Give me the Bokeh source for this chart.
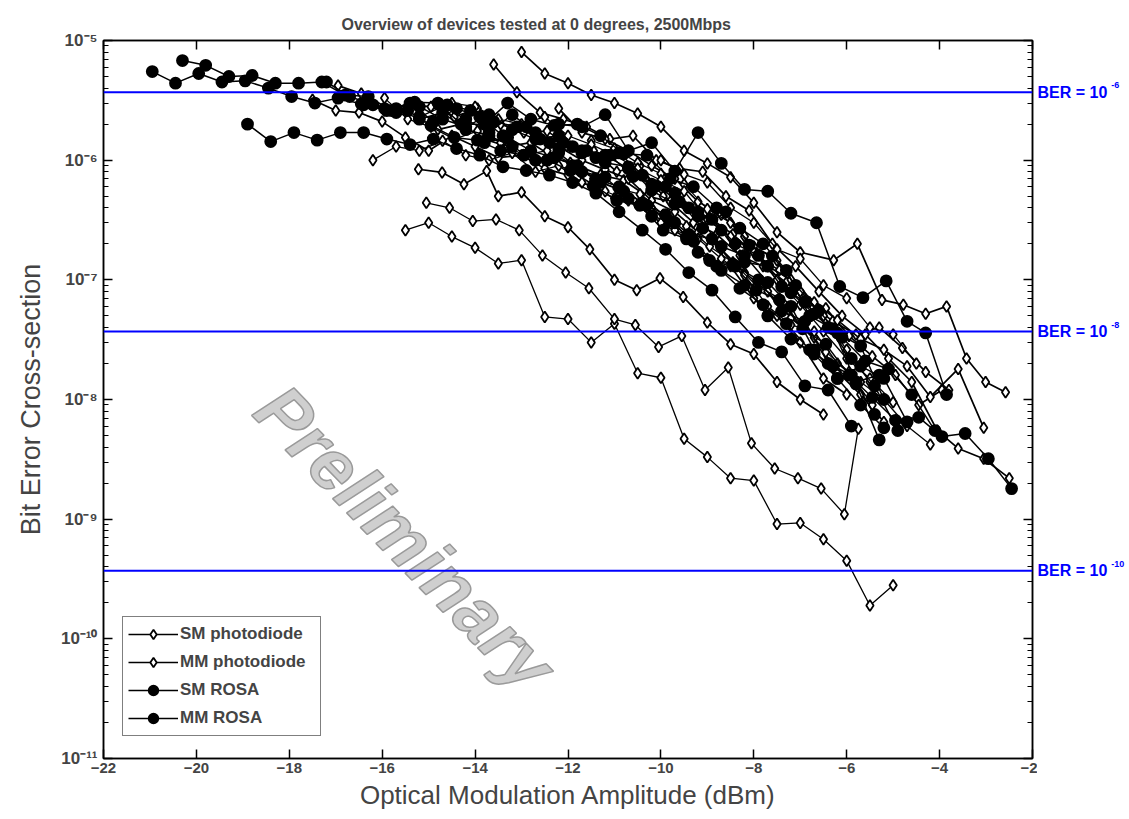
from bokeh.plotting import figure
from bokeh.layouts import row
from bokeh.models import (FixedTicker, LinearAxis, LogAxis, Range1d, Span, Label,
                          Legend, LegendItem, CustomJSTickFormatter)
from bokeh.core.properties import value
from bokeh.embed import file_html
from bokeh.resources import INLINE

# ---------------- data (OMA in dBm, bit error cross-section) ----------------
# SM ROSA (filled circles)
srosa_a_x = [-20.95, -20.45, -19.95, -19.45, -18.95, -18.45, -17.95, -17.45, -16.95, -16.45,
             -15.95, -15.45, -14.95, -14.45, -13.95, -13.45, -12.95, -12.45, -11.95, -11.45,
             -10.95, -10.45, -9.95, -9.45, -8.95, -8.45, -7.95, -7.45, -6.95, -6.45,
             -5.95, -5.45, -4.95, -4.45, -3.95, -3.45, -2.95, -2.45]
srosa_a_y = [5.5e-6, 4.4e-6, 5.3e-6, 4.5e-6, 4.6e-6, 4.0e-6, 3.4e-6, 3.0e-6, 3.3e-6, 2.95e-6,
             2.7e-6, 2.6e-6, 1.95e-6, 1.55e-6, 1.47e-6, 1.2e-6, 1.1e-6, 1.0e-6, 8.2e-7, 6.2e-7,
             4.6e-7, 4.2e-7, 2.6e-7, 2.2e-7, 1.45e-7, 1.35e-7, 8.2e-8, 6.8e-8, 3.9e-8, 2.9e-8,
             1.6e-8, 1.04e-8, 6.7e-9, 7.1e-9, 4.9e-9, 5.2e-9, 3.2e-9, 1.8e-9]
srosa_b_x = [-20.3, -19.8, -19.3, -18.8, -18.3, -17.8, -17.3, -16.8, -16.3, -15.8,
             -15.3, -14.8, -14.3, -13.8, -13.3, -12.8, -12.3, -11.8, -11.3, -10.8,
             -10.3, -9.8, -9.3, -8.8, -8.3, -7.8, -7.3, -6.8, -6.3, -5.8, -5.3]
srosa_b_y = [6.8e-6, 6.2e-6, 5.0e-6, 5.1e-6, 4.4e-6, 4.4e-6, 4.5e-6, 3.5e-6, 3.4e-6, 2.6e-6,
             3.05e-6, 3.0e-6, 2.0e-6, 2.0e-6, 3.0e-6, 2.2e-6, 1.95e-6, 2.0e-6, 1.6e-6, 1.13e-6,
             1.1e-6, 7.0e-7, 6.0e-7, 4.0e-7, 2.7e-7, 2.0e-7, 1.2e-7, 5.0e-8, 3.9e-8, 1.4e-8, 1.6e-8]
srosa_c_x = [-16.4, -15.9, -15.4, -14.9, -14.4, -13.9, -13.4, -12.9, -12.4, -11.9, -11.4, -10.9,
             -10.4, -9.9, -9.4, -8.9, -8.4, -7.9, -7.4, -6.9, -6.4, -5.9, -5.4, -4.9]
srosa_c_y = [2.9e-6, 2.6e-6, 3.0e-6, 2.1e-6, 2.7e-6, 2.3e-6, 1.6e-6, 1.9e-6, 1.4e-6, 1.3e-6, 1.05e-6, 1.15e-6,
             7.5e-7, 6.0e-7, 4.0e-7, 3.2e-7, 2.0e-7, 1.6e-7, 8.8e-8, 6.5e-8, 4.0e-8, 2.2e-8, 1.3e-8, 5.5e-9]
srosa_d_x = [-14.6, -14.1, -13.6, -13.1, -12.6, -12.1, -11.6, -11.1, -10.6, -10.1, -9.6,
             -9.1, -8.6, -8.1, -7.6, -7.1, -6.6, -6.1, -5.6, -5.1, -4.6, -4.1]
srosa_d_y = [2.9e-6, 2.6e-6, 2.1e-6, 1.9e-6, 1.5e-6, 1.4e-6, 1.2e-6, 1.1e-6, 7.3e-7, 6.1e-7, 4.5e-7,
             2.7e-7, 3.7e-7, 1.95e-7, 1.58e-7, 9.0e-8, 5.5e-8, 3.3e-8, 2.1e-8, 1.8e-8, 1.1e-8, 5.5e-9]
srosa_e_x = [-12.2, -11.7, -11.2, -10.7, -10.2, -9.7, -9.2, -8.7, -8.2, -7.7, -7.2, -6.65,
             -6.15, -5.65, -5.15, -4.7, -4.3, -3.85]
srosa_e_y = [2.0e-6, 1.9e-6, 2.4e-6, 1.2e-6, 1.4e-6, 8.1e-7, 1.7e-6, 9.4e-7, 5.7e-7, 5.5e-7, 3.6e-7, 3.0e-7,
             8.8e-8, 7.1e-8, 9.8e-8, 4.5e-8, 3.6e-8, 1.1e-8]
srosa_f_x = [-17.2, -16.7, -16.2, -15.7, -15.2, -14.7, -14.2, -13.7, -13.2, -12.7, -12.2, -11.7,
             -11.2, -10.7, -10.2, -9.7, -9.2, -8.7, -8.2, -7.7, -7.2, -6.7, -6.2, -5.7, -5.2]
srosa_f_y = [4.5e-6, 3.4e-6, 2.9e-6, 2.5e-6, 2.8e-6, 2.2e-6, 1.9e-6, 2.4e-6, 1.8e-6, 1.5e-6, 1.6e-6, 1.2e-6,
             9.5e-7, 8.8e-7, 5.6e-7, 4.3e-7, 3.4e-7, 1.9e-7, 1.6e-7, 9.5e-8, 6.0e-8, 2.6e-8, 1.5e-8, 9.0e-9, 5.8e-9]

# MM ROSA (filled circles)
mrosa_a_x = [-18.9, -18.4, -17.9, -17.4, -16.9, -16.4, -15.9, -15.4, -14.9, -14.4, -13.9, -13.4, -12.9,
             -12.4, -11.9, -11.4, -10.9, -10.4, -9.9, -9.4, -8.9, -8.4, -7.9, -7.4, -6.9, -6.4, -5.9]
mrosa_a_y = [2.0e-6, 1.43e-6, 1.7e-6, 1.47e-6, 1.7e-6, 1.7e-6, 1.5e-6, 1.35e-6, 1.5e-6, 1.25e-6, 1.1e-6, 8.8e-7, 8.2e-7,
             7.5e-7, 6.5e-7, 5.3e-7, 3.7e-7, 2.6e-7, 1.8e-7, 1.15e-7, 8.2e-8, 4.9e-8, 3.0e-8, 2.5e-8, 1.3e-8, 1.2e-8, 6.0e-9]
mrosa_b_x = [-15.2, -14.7, -14.2, -13.7, -13.2, -12.7, -12.2, -11.7, -11.2, -10.7, -10.2,
             -9.7, -9.2, -8.7, -8.2, -7.7, -7.2, -6.7, -6.2, -5.7, -5.2]
mrosa_b_y = [2.3e-6, 2.8e-6, 2.2e-6, 1.7e-6, 2.4e-6, 1.7e-6, 1.25e-6, 1.15e-6, 1.1e-6, 8.5e-7, 6.3e-7,
             5.3e-7, 3.7e-7, 2.6e-7, 1.4e-7, 1.3e-7, 7.8e-8, 5.2e-8, 3.6e-8, 2.8e-8, 1.0e-8]
mrosa_c_x = [-13.8, -13.3, -12.8, -12.3, -11.8, -11.3, -10.8, -10.3, -9.8, -9.3, -8.8, -8.3,
             -7.8, -7.3, -6.8, -6.3, -5.8, -5.3]
mrosa_c_y = [1.4e-6, 1.55e-6, 1.2e-6, 1.05e-6, 9.0e-7, 6.5e-7, 5.5e-7, 4.2e-7, 3.1e-7, 2.1e-7, 1.3e-7, 8.5e-8,
             6.2e-8, 4.3e-8, 2.6e-8, 1.9e-8, 1.35e-8, 4.6e-9]
mrosa_d_x = [-11.9, -11.4, -10.9, -10.4, -9.9, -9.4, -8.9, -8.4, -7.9, -7.4, -6.9, -6.4, -5.9, -5.4]
mrosa_d_y = [9.0e-7, 7.0e-7, 6.0e-7, 4.4e-7, 3.5e-7, 2.4e-7, 2.2e-7, 1.3e-7, 1.0e-7, 5.5e-8, 4.5e-8, 2.0e-8, 1.6e-8, 7.5e-9]
mrosa_e_x = [-15.7, -15.2, -14.7, -14.2, -13.7, -13.2, -12.7, -12.2, -11.7, -11.2, -10.7, -10.2,
             -9.7, -9.2, -8.7, -8.2, -7.7, -7.2, -6.7, -6.2, -5.7, -5.2, -4.7]
mrosa_e_y = [2.7e-6, 2.2e-6, 2.5e-6, 1.8e-6, 1.6e-6, 1.3e-6, 1.0e-6, 1.15e-6, 8.0e-7, 7.2e-7, 4.8e-7, 3.4e-7,
             3.0e-7, 1.7e-7, 1.2e-7, 9.0e-8, 5.0e-8, 3.2e-8, 2.4e-8, 1.5e-8, 1.9e-8, 1.5e-8, 6.5e-9]

# SM photodiode (open diamonds)
spd_a_x = [-13.0, -12.5, -12.0, -11.5, -11.0, -10.5, -10.0, -9.5, -9.0, -8.5, -8.0, -7.5, -7.0,
           -6.28, -5.77, -5.24, -4.78, -4.3, -3.85, -3.42, -3.01, -2.58]
spd_a_y = [8.0e-6, 5.3e-6, 4.4e-6, 3.5e-6, 3.0e-6, 2.45e-6, 1.9e-6, 1.2e-6, 9.4e-7, 7.2e-7, 4.4e-7, 2.5e-7, 1.7e-7,
           1.46e-7, 2.0e-7, 6.8e-8, 6.2e-8, 5.2e-8, 6.0e-8, 2.2e-8, 1.4e-8, 1.15e-8]
spd_b_x = [-13.6, -13.1, -12.6, -12.1, -11.6, -11.1, -10.6, -10.1, -9.6, -9.1, -8.6, -8.1,
           -7.6, -7.1, -6.6, -6.1, -5.6, -5.1, -4.6, -4.05, -3.6, -3.05, -2.5]
spd_b_y = [6.3e-6, 3.7e-6, 2.5e-6, 2.2e-6, 1.9e-6, 1.5e-6, 1.6e-6, 1.0e-6, 8.5e-7, 8.0e-7, 5.0e-7, 3.8e-7,
           2.0e-7, 1.3e-7, 8.0e-8, 5.0e-8, 3.5e-8, 2.2e-8, 1.4e-8, 5.5e-9, 3.9e-9, 3.2e-9, 2.2e-9]
spd_c_x = [-17.5, -17.0, -16.5, -16.0, -15.5, -15.0, -14.5, -14.0, -13.5, -13.0, -12.5, -12.0,
           -11.5, -11.0, -10.5, -10.0, -9.5, -9.0, -8.5, -8.0, -7.5, -7.0, -6.5, -6.0]
spd_c_y = [3.2e-6, 2.6e-6, 2.5e-6, 2.1e-6, 1.55e-6, 1.2e-6, 1.6e-6, 1.3e-6, 1.05e-6, 1.1e-6, 8.5e-7, 7.5e-7,
           6.0e-7, 4.8e-7, 4.2e-7, 3.0e-7, 2.3e-7, 1.5e-7, 1.3e-7, 7.0e-8, 5.0e-8, 3.0e-8, 1.5e-8, 1.1e-8]
spd_d_x = [-16.95, -16.45, -15.95, -15.45, -14.95, -14.45, -13.95, -13.45, -12.95, -12.45, -11.95, -11.45,
           -10.95, -10.45, -9.95, -9.45, -8.95, -8.45, -7.95, -7.45, -6.95, -6.45, -5.95, -5.45,
           -4.95, -4.45, -3.95]
spd_d_y = [4.2e-6, 3.6e-6, 2.6e-6, 2.9e-6, 2.8e-6, 2.3e-6, 2.7e-6, 2.0e-6, 1.7e-6, 1.75e-6, 1.3e-6, 1.2e-6,
           8.0e-7, 9.0e-7, 5.0e-7, 4.0e-7, 3.3e-7, 2.4e-7, 1.6e-7, 1.2e-7, 7.5e-8, 5.8e-8, 3.4e-8, 2.3e-8,
           1.6e-8, 9.0e-9, 1.2e-8]
spd_e_x = [-14.8, -14.3, -13.8, -13.3, -12.8, -12.3, -11.8, -11.3, -10.8, -10.3, -9.8, -9.3,
           -8.8, -8.3, -7.8, -7.3, -6.8, -6.3, -5.8, -5.3, -4.8, -4.3, -3.8]
spd_e_y = [1.8e-6, 2.0e-6, 1.5e-6, 1.3e-6, 1.4e-6, 1.05e-6, 9.0e-7, 7.5e-7, 6.8e-7, 5.0e-7, 4.5e-7, 3.0e-7,
           2.4e-7, 1.6e-7, 1.3e-7, 9.5e-8, 6.5e-8, 4.5e-8, 3.5e-8, 4.0e-8, 2.7e-8, 1.7e-8, 1.2e-8]
spd_f_x = [-12.2, -11.7, -11.2, -10.7, -10.2, -9.7, -9.2, -8.7, -8.2, -7.7, -7.2, -6.7,
           -6.2, -5.7, -5.2, -4.7, -4.2, -3.6, -3.05]
spd_f_y = [2.7e-6, 1.7e-6, 1.5e-6, 1.2e-6, 9.0e-7, 7.0e-7, 4.5e-7, 3.5e-7, 2.3e-7, 1.3e-7, 1.0e-7, 6.5e-8,
           4.6e-8, 3.2e-8, 2.6e-8, 1.9e-8, 1.05e-8, 1.8e-8, 5.8e-9]
spd_g_x = [-12.7, -12.2, -11.7, -11.2, -10.7, -10.2, -9.7, -9.2, -8.7, -8.2, -7.7, -7.2, -6.7, -6.2, -5.7, -5.2]
spd_g_y = [1.6e-6, 1.3e-6, 1.0e-6, 8.3e-7, 7.0e-7, 4.6e-7, 3.7e-7, 2.5e-7, 1.8e-7, 1.15e-7, 8.0e-8, 4.8e-8,
           3.3e-8, 1.7e-8, 1.1e-8, 6.5e-9]
spd_h_x = [-15.22, -14.71, -14.24, -13.75, -13.5, -13.0, -12.5, -12.0, -11.53, -11.0, -10.52, -10.02,
           -9.52, -9.0, -8.5, -8.0, -7.5, -7.0, -6.5]
spd_h_y = [8.4e-7, 7.9e-7, 6.3e-7, 8.1e-7, 5.0e-7, 5.4e-7, 3.4e-7, 2.75e-7, 1.8e-7, 1.0e-7, 8.2e-8, 1.03e-7,
           7.2e-8, 4.4e-8, 2.9e-8, 2.4e-8, 1.4e-8, 1.0e-8, 7.5e-9]

# MM photodiode (open diamonds)
mpd_a_x = [-16.2, -15.7, -15.2, -14.7, -14.2, -13.7, -13.2, -12.7, -12.2, -11.7, -11.2, -10.7, -10.2,
           -9.7, -9.2, -8.7, -8.2, -7.7, -7.2, -6.7, -6.2, -5.7, -5.2, -4.7, -4.2]
mpd_a_y = [1.0e-6, 1.3e-6, 1.2e-6, 1.45e-6, 1.1e-6, 1.0e-6, 1.15e-6, 8.0e-7, 9.0e-7, 6.5e-7, 5.5e-7, 4.6e-7, 4.0e-7,
           2.6e-7, 2.2e-7, 1.5e-7, 1.1e-7, 6.0e-8, 4.2e-8, 3.7e-8, 2.0e-8, 1.4e-8, 1.0e-8, 6.0e-9, 4.2e-9]
mpd_b_x = [-15.95, -15.45, -14.95, -14.45, -13.95, -13.45, -12.95, -12.45, -11.95, -11.45, -10.95,
           -10.45, -9.95, -9.45, -8.95, -8.45, -7.95, -7.45, -6.95, -6.45, -5.95, -5.45]
mpd_b_y = [3.3e-6, 2.2e-6, 1.9e-6, 1.5e-6, 1.75e-6, 1.4e-6, 1.1e-6, 1.2e-6, 9.5e-7, 7.0e-7, 5.8e-7,
           5.2e-7, 3.5e-7, 2.8e-7, 1.9e-7, 1.4e-7, 9.0e-8, 7.0e-8, 4.0e-8, 2.5e-8, 1.7e-8, 9.0e-9]
mpd_c_x = [-11.5, -11.0, -10.5, -10.0, -9.5, -9.0, -8.5, -8.0, -7.5, -7.0, -6.5, -6.0, -5.5]
mpd_c_y = [1.46e-6, 1.25e-6, 9.5e-7, 7.7e-7, 6.3e-7, 3.9e-7, 3.0e-7, 1.9e-7, 1.45e-7, 8.0e-8, 5.0e-8, 2.6e-8, 1.4e-8]
mpd_d_x = [-14.5, -14.0, -13.5, -13.0, -12.5, -12.0, -11.5, -11.0, -10.5, -10.0,
           -9.5, -9.0, -8.5, -8.0, -7.5, -7.0, -6.5, -6.0, -5.5, -5.0]
mpd_d_y = [3.0e-6, 2.8e-6, 2.2e-6, 2.0e-6, 2.3e-6, 1.6e-6, 1.35e-6, 1.1e-6, 8.5e-7, 6.8e-7,
           5.5e-7, 3.2e-7, 2.3e-7, 1.7e-7, 1.0e-7, 6.2e-8, 3.7e-8, 2.2e-8, 1.5e-8, 9.5e-9]
mpd_e_x = [-10.0, -9.5, -9.0, -8.5, -8.0, -7.5, -7.0, -6.5, -6.0, -5.5, -5.0, -4.5]
mpd_e_y = [1.0e-6, 7.6e-7, 6.5e-7, 4.0e-7, 3.0e-7, 1.8e-7, 1.5e-7, 9.0e-8, 7.0e-8, 4.0e-8, 3.5e-8, 2.0e-8]
mpd_f_x = [-15.5, -15.0, -14.5, -14.0, -13.5, -13.0, -12.5, -12.0, -11.5, -11.0, -10.5,
           -10.0, -9.5, -9.0, -8.5, -8.0, -7.5, -7.0, -6.5, -6.0, -5.5, -5.0]
mpd_f_y = [2.6e-7, 3.0e-7, 2.3e-7, 1.85e-7, 1.37e-7, 1.46e-7, 4.9e-8, 4.7e-8, 3.0e-8, 4.3e-8, 1.66e-8,
           1.52e-8, 4.7e-9, 3.3e-9, 2.2e-9, 2.1e-9, 9.1e-10, 9.3e-10, 6.8e-10, 4.5e-10, 1.9e-10, 2.8e-10]
mpd_g_x = [-15.05, -14.55, -14.05, -13.55, -13.05, -12.55, -12.05, -11.55, -11.0, -10.55,
           -10.05, -9.55, -9.05, -8.55, -8.05, -7.55, -7.05, -6.55, -6.05, -5.75]
mpd_g_y = [4.4e-7, 4.0e-7, 3.1e-7, 3.2e-7, 2.6e-7, 1.6e-7, 1.15e-7, 8.5e-8, 4.7e-8, 4.2e-8,
           2.75e-8, 3.4e-8, 1.2e-8, 1.85e-8, 4.3e-9, 2.65e-9, 2.2e-9, 1.8e-9, 1.1e-9, 5.7e-9]

categories = ["SM photodiode", "MM photodiode", "SM ROSA", "MM ROSA"]
ber_levels = [3.7e-6, 3.7e-8, 3.7e-10]
ber_texts = ["BER = 10", "BER = 10", "BER = 10"]
ber_exponents = ["-6", "-8", "-10"]
x_ticks = [-22, -20, -18, -16, -14, -12, -10, -8, -6, -4, -2]
y_ticks = [1e-11, 1e-10, 1e-9, 1e-8, 1e-7, 1e-6, 1e-5]

groups = {
    "SM photodiode": [(spd_a_x, spd_a_y), (spd_b_x, spd_b_y), (spd_c_x, spd_c_y), (spd_d_x, spd_d_y),
                      (spd_e_x, spd_e_y), (spd_f_x, spd_f_y), (spd_g_x, spd_g_y), (spd_h_x, spd_h_y)],
    "MM photodiode": [(mpd_a_x, mpd_a_y), (mpd_b_x, mpd_b_y), (mpd_c_x, mpd_c_y), (mpd_d_x, mpd_d_y),
                      (mpd_e_x, mpd_e_y), (mpd_f_x, mpd_f_y), (mpd_g_x, mpd_g_y)],
    "SM ROSA": [(srosa_a_x, srosa_a_y), (srosa_b_x, srosa_b_y), (srosa_c_x, srosa_c_y),
                (srosa_d_x, srosa_d_y), (srosa_e_x, srosa_e_y), (srosa_f_x, srosa_f_y)],
    "MM ROSA": [(mrosa_a_x, mrosa_a_y), (mrosa_b_x, mrosa_b_y), (mrosa_c_x, mrosa_c_y),
                (mrosa_d_x, mrosa_d_y), (mrosa_e_x, mrosa_e_y)],
}

# ---------------- figure ----------------
FONT = "Liberation Sans"
H = 815
TOP, BOTTOM = 40, 57
p = figure(width=1037, height=H, x_range=Range1d(-22, -2), y_range=Range1d(1e-11, 1e-5),
           y_axis_type="log", output_backend="svg", toolbar_location=None,
           min_border_left=103, min_border_right=5, min_border_top=TOP, min_border_bottom=BOTTOM,
           title="Overview of devices tested at 0 degrees, 2500Mbps")
p.title.text_font = FONT
p.title.text_font_size = "16px"
p.title.text_font_style = "bold"
p.title.align = "left"
p.title.offset = 238
p.title.standoff = 16
p.xgrid.visible = False
p.ygrid.visible = False
p.outline_line_color = "black"
p.outline_line_width = 1.5
p.background_fill_color = "white"
p.border_fill_color = "white"

minor = [m * 10.0 ** e for e in range(-11, -5) for m in range(2, 10)]
yticker = FixedTicker(ticks=y_ticks, minor_ticks=minor)
xticker = FixedTicker(ticks=x_ticks)

sup_fmt = CustomJSTickFormatter(code="""
const e = Math.round(Math.log10(tick));
const m = {'-':'\u207b','0':'\u2070','1':'\u00b9','2':'\u00b2','3':'\u00b3','4':'\u2074',
           '5':'\u2075','6':'\u2076','7':'\u2077','8':'\u2078','9':'\u2079'};
return '10' + String(e).split('').map(c => m[c]).join('');
""")
blank_fmt = CustomJSTickFormatter(code="return '';")

def style_axis(ax):
    ax.axis_line_color = "black"
    ax.axis_line_width = 1.5
    ax.major_tick_line_color = "black"
    ax.major_tick_line_width = 1.5
    ax.minor_tick_line_color = "black"
    ax.minor_tick_line_width = 1.2
    ax.major_tick_in = 9
    ax.major_tick_out = 0
    ax.minor_tick_in = 5
    ax.minor_tick_out = 0

xa = p.xaxis[0]
xa.ticker = xticker
style_axis(xa)
xa.major_label_text_font = FONT
xa.major_label_text_font_style = "bold"
xa.major_label_text_font_size = "15px"
xa.major_label_standoff = 4
xa.axis_label = "Optical Modulation Amplitude (dBm)"
xa.axis_label_text_font = FONT
xa.axis_label_text_font_size = "26px"
xa.axis_label_text_font_style = "normal"
xa.axis_label_standoff = 4

ya = p.yaxis[0]
ya.ticker = yticker
ya.formatter = sup_fmt
style_axis(ya)
ya.major_label_text_font = FONT
ya.major_label_text_font_style = "bold"
ya.major_label_text_font_size = "17px"
ya.major_label_standoff = 6
ya.axis_label = "Bit Error Cross-section"
ya.axis_label_text_font = FONT
ya.axis_label_text_font_size = "27px"
ya.axis_label_text_font_style = "normal"
ya.axis_label_standoff = 12

top = LinearAxis(ticker=xticker, formatter=blank_fmt, major_label_standoff=0)
style_axis(top)
p.add_layout(top, "above")
right = LogAxis(ticker=yticker, formatter=blank_fmt, major_label_standoff=0)
style_axis(right)
p.add_layout(right, "right")

# watermark
p.add_layout(Label(x=-15.5, y=7.0e-10, text="Preliminary", angle=-0.80, angle_units="rad",
                   text_align="center", text_baseline="middle", text_font=FONT,
                   text_font_size="72px", text_font_style="bold italic",
                   text_color="#cfcfcf", text_outline_color="#9a9a9a", level="underlay"))

# BER reference lines
for lvl in ber_levels:
    p.add_layout(Span(location=lvl, dimension="width", line_color="#0000ff", line_width=2))

styles = {
    "SM photodiode": dict(marker="diamond", size=11, fill_color="white", lw=1.7),
    "MM photodiode": dict(marker="diamond", size=11, fill_color="white", lw=1.3),
    "SM ROSA": dict(marker="circle", size=11, fill_color="black", lw=1.5),
    "MM ROSA": dict(marker="circle", size=11, fill_color="black", lw=1.5),
}

legend_refs = {}
for cat in categories:
    st = styles[cat]
    for i, (xs, ys) in enumerate(groups[cat]):
        lr = p.line(xs, ys, line_color="black", line_width=st["lw"])
        sr = p.scatter(xs, ys, marker=st["marker"], size=st["size"],
                       fill_color=st["fill_color"], line_color="black", line_width=1.8)
        if i == 0:
            legend_refs[cat] = [lr, sr]

legend = Legend(items=[LegendItem(label=c, renderers=legend_refs[c]) for c in categories],
                location=(19, 22))
legend.label_text_font = FONT
legend.label_text_font_style = "bold"
legend.label_text_font_size = "17px"
legend.glyph_width = 50
legend.glyph_height = 24
legend.label_width = 135
legend.label_height = 24
legend.label_standoff = 2
legend.spacing = 4
legend.padding = 5
legend.margin = 0
legend.border_line_color = "black"
legend.border_line_width = 1.5
legend.background_fill_alpha = 1.0
p.add_layout(legend)

# side panel with the BER labels (same log scale as the main plot)
q = figure(width=91, height=H, x_range=Range1d(0, 1), y_range=Range1d(1e-11, 1e-5),
           y_axis_type="log", output_backend="svg", toolbar_location=None,
           min_border_left=0, min_border_right=0, min_border_top=TOP, min_border_bottom=BOTTOM,
           outline_line_color=None)
q.axis.visible = False
q.xgrid.visible = False
q.ygrid.visible = False
q.text(x=[0.0] * len(ber_levels), y=ber_levels, text=ber_texts, text_color="#0000ff",
       text_font=value(FONT), text_font_style="bold", text_font_size="16px",
       text_baseline="middle", text_align="left")
q.text(x=[0.81] * len(ber_levels), y=ber_levels, text=ber_exponents, text_color="#0000ff",
       text_font=value(FONT), text_font_style="bold", text_font_size="9px",
       text_baseline="middle", text_align="left", y_offset=-7)

layout = row(p, q, spacing=0)
open("out.html", "w").write(file_html(layout, INLINE))
